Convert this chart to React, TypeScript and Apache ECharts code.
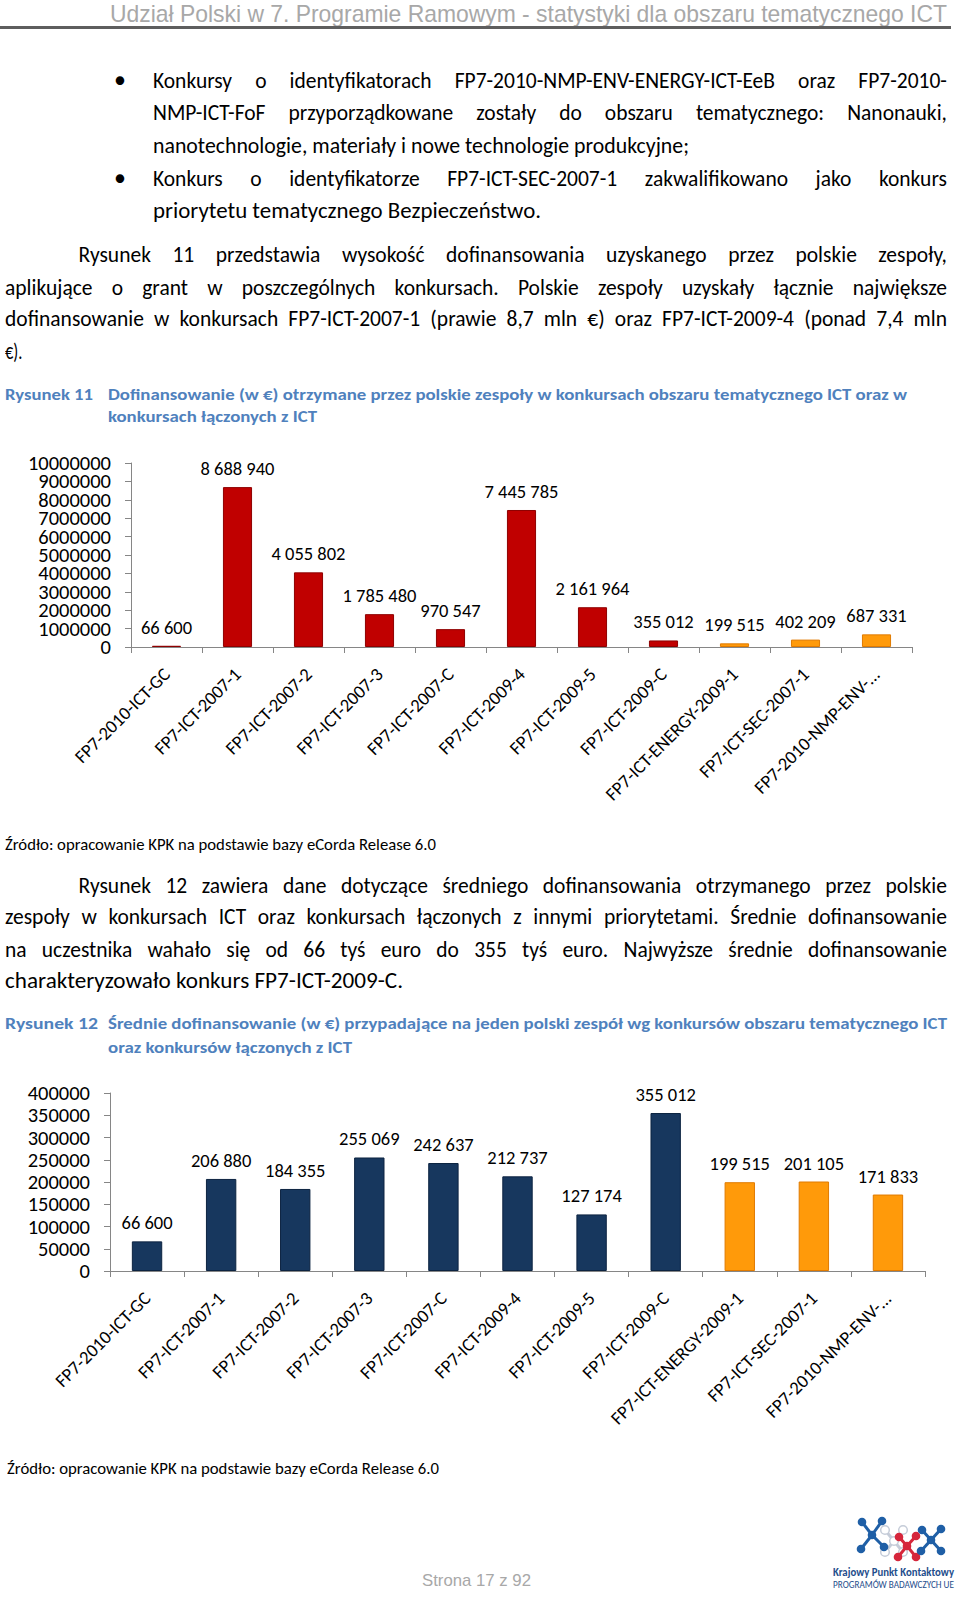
import React, { useEffect, useLayoutEffect, useRef } from "react";
import * as echarts from "echarts";

// ---------- DATA ----------
const categories = [
  "FP7-2010-ICT-GC",
  "FP7-ICT-2007-1",
  "FP7-ICT-2007-2",
  "FP7-ICT-2007-3",
  "FP7-ICT-2007-C",
  "FP7-ICT-2009-4",
  "FP7-ICT-2009-5",
  "FP7-ICT-2009-C",
  "FP7-ICT-ENERGY-2009-1",
  "FP7-ICT-SEC-2007-1",
  "FP7-2010-NMP-ENV-...",
];
// Rysunek 11: total funding (EUR)
const totalFunding = [66600, 8688940, 4055802, 1785480, 970547, 7445785, 2161964, 355012, 199515, 402209, 687331];
// Rysunek 12: average funding per team (EUR)
const avgFunding = [66600, 206880, 184355, 255069, 242637, 212737, 127174, 355012, 199515, 201105, 171833];
// 1 = call joint with another priority (orange), 0 = ICT call
const jointCall = [0, 0, 0, 0, 0, 0, 0, 0, 1, 1, 1];
// axis scales
const totalAxisMax = 10000000;
const totalAxisStep = 1000000;
const avgAxisMax = 400000;
const avgAxisStep = 50000;

// ---------- STYLE ----------
const BODY = "Carlito, Lato, 'Noto Sans', sans-serif";
const HEAD = "'Liberation Sans', Arial, sans-serif";
const AXIS = "#868686";
const RED = "#C00000";
const RED_B = "#8E0000";
const ORANGE = "#FF9A0A";
const ORANGE_B = "#E07A00";
const NAVY = "#17375E";
const NAVY_B = "#0C2340";
const CAPTION = "#4F81BD";
const BODY_SIZE = 21.5;

const fmt = (v: number) => String(v).replace(/\B(?=(\d{3})+(?!\d))/g, " ");

type LineProps = {
  x: number;
  y: number;
  w: number;
  text: string;
  justify?: boolean;
  size?: number;
  weight?: number;
  color?: string;
  family?: string;
  lh?: number;
  origin?: string;
};

function Line({ x, y, w, text, justify = false, size = BODY_SIZE, weight = 400, color = "#000", family = BODY, lh = 26, origin = "left center" }: LineProps) {
  const inner = useRef<HTMLDivElement>(null);
  useLayoutEffect(() => {
    const fit = () => {
      const el = inner.current;
      if (!el) return;
      el.style.transform = "";
      if (justify) {
        el.style.width = w + "px";
        const nat = el.scrollWidth;
        if (nat > w + 0.5) {
          el.style.width = nat + "px";
          el.style.transform = `scaleX(${w / nat})`;
        }
      } else {
        const nat = el.getBoundingClientRect().width;
        if (nat > 0) el.style.transform = `scaleX(${w / nat})`;
      }
    };
    fit();
    (document as any).fonts?.ready?.then(fit);
  }, [text, w, justify]);
  const base: React.CSSProperties = {
    position: "absolute",
    left: x,
    top: y - lh / 2,
    height: lh,
    lineHeight: lh + "px",
    fontFamily: family,
    fontSize: size,
    fontWeight: weight,
    color,
    whiteSpace: "nowrap",
  };
  if (justify) {
    const words = text.split(" ");
    return (
      <div style={base}>
        <div
          ref={inner}
          style={{ display: "flex", justifyContent: "space-between", gap: "0.2em", width: w, transformOrigin: origin }}
        >
          {words.map((wd, i) => (
            <span key={i}>{wd}</span>
          ))}
        </div>
      </div>
    );
  }
  return (
    <div style={base}>
      <div ref={inner} style={{ display: "inline-block", whiteSpace: "pre", transformOrigin: origin }}>
        {text}
      </div>
    </div>
  );
}

type ChartCfg = {
  values: number[];
  fill: string;
  border: string;
  left: number;
  top: number;
  width: number;
  height: number;
  max: number;
  step: number;
  yFont: number;
  yMargin: number;
  barWidth: string;
};

// Tick labels are split over two coinciding value axes (even / odd steps),
// so that tightly packed labels are never dropped by the overlap check.
function yAxisFor(c: ChartCfg, parity: number, main: boolean) {
  return {
    type: "value",
    position: "left",
    min: 0,
    max: c.max,
    interval: c.step,
    axisLine: { show: main, lineStyle: { color: AXIS, width: 1 } },
    axisTick: { show: main, length: 6, lineStyle: { color: AXIS } },
    splitLine: { show: false },
    axisLabel: {
      fontSize: c.yFont,
      color: "#000",
      margin: c.yMargin,
      fontFamily: BODY,
      showMinLabel: true,
      showMaxLabel: true,
      formatter: (v: number) => (Math.round(v / c.step) % 2 === parity ? String(v) : ""),
    },
  };
}

function buildOption(c: ChartCfg) {
  return {
    animation: false,
    grid: { left: c.left, top: c.top, width: c.width, height: c.height, containLabel: false },
    xAxis: {
      type: "category",
      data: categories,
      axisLine: { show: true, lineStyle: { color: AXIS, width: 1 } },
      axisTick: { show: true, length: 6, alignWithLabel: false, interval: 0, lineStyle: { color: AXIS } },
      axisLabel: { rotate: 45, interval: 0, margin: 24, fontSize: 18.5, color: "#000", fontFamily: BODY },
    },
    yAxis: [yAxisFor(c, 0, true), yAxisFor(c, 1, false)],
    series: [
      {
        type: "bar",
        yAxisIndex: 0,
        barWidth: c.barWidth,
        data: c.values.map((v, i) => ({
          value: v,
          itemStyle: {
            color: jointCall[i] ? ORANGE : c.fill,
            borderColor: jointCall[i] ? ORANGE_B : c.border,
            borderWidth: 1,
          },
        })),
        label: {
          show: true,
          position: "top",
          distance: 9,
          fontSize: 18.5,
          color: "#000",
          fontFamily: BODY,
          formatter: (p: any) => fmt(p.value),
        },
      },
    ],
  };
}

function Chart({ cfg, style }: { cfg: ChartCfg; style: React.CSSProperties }) {
  const ref = useRef<HTMLDivElement>(null);
  useEffect(() => {
    if (!ref.current) return;
    const chart = echarts.init(ref.current, undefined, { renderer: "svg" });
    chart.setOption(buildOption(cfg) as any);
    return () => chart.dispose();
  }, []);
  return <div ref={ref} style={{ position: "absolute", ...style }} />;
}

const chart1: ChartCfg = {
  values: totalFunding,
  fill: RED,
  border: RED_B,
  left: 131,
  top: 23,
  width: 781,
  height: 184,
  max: totalAxisMax,
  step: totalAxisStep,
  yFont: 20.5,
  yMargin: 20,
  barWidth: "41%",
};

const chart2: ChartCfg = {
  values: avgFunding,
  fill: NAVY,
  border: NAVY_B,
  left: 110,
  top: 23,
  width: 815,
  height: 178,
  max: avgAxisMax,
  step: avgAxisStep,
  yFont: 20.5,
  yMargin: 20,
  barWidth: "41%",
};

const R = 947; // right text margin

function Logo() {
  const blue = "#1F5FA6";
  const red = "#D6263B";
  const grey = "#C5CCD8";
  const mol = (cx: number, cy: number, ends: number[][], col: string, hollow = false, key = "") => (
    <g key={key}>
      {ends.map((e, i) => (
        <line key={"l" + i} x1={cx} y1={cy} x2={e[0]} y2={e[1]} stroke={col} strokeWidth={3} />
      ))}
      {ends.map((e, i) => (
        <circle key={"c" + i} cx={e[0]} cy={e[1]} r={4.3} fill={hollow ? "#fff" : col} stroke={col} strokeWidth={hollow ? 1.5 : 0} />
      ))}
      <circle cx={cx} cy={cy} r={4.3} fill={hollow ? "#fff" : col} stroke={col} strokeWidth={hollow ? 1.5 : 0} />
    </g>
  );
  return (
    <svg style={{ position: "absolute", left: 850, top: 1512 }} width={100} height={54} viewBox="850 1512 100 54">
      {mol(894, 1541, [[885, 1530], [903, 1530], [885, 1552], [903, 1552]], grey, true, "g")}
      {mol(872, 1535, [[862, 1522], [882, 1521], [861, 1549], [884, 1547]], blue, false, "b1")}
      {mol(907, 1546, [[899, 1537], [916, 1536], [898, 1557], [916, 1557]], red, false, "r")}
      {mol(931, 1540, [[922, 1530], [941, 1529], [921, 1551], [941, 1551]], blue, false, "b2")}
    </svg>
  );
}

export default function App() {
  useEffect(() => {
    document.body.style.margin = "0";
  }, []);
  const bul = (y: number) => (
    <div style={{ position: "absolute", left: 114, top: y - 13, lineHeight: "26px", fontSize: 24, fontFamily: BODY }}>•</div>
  );
  return (
    <div style={{ position: "absolute", left: 0, top: 0, width: 960, height: 1599, background: "#fff", overflow: "hidden" }}>
      {/* header */}
      <Line x={110} y={14} w={837} text="Udział Polski w 7. Programie Ramowym - statystyki dla obszaru tematycznego ICT" size={24} family={HEAD} color="#A8A8A8" lh={30} />
      <div style={{ position: "absolute", left: 0, top: 26, width: 951, height: 3, background: "#5E5E5E" }} />

      {/* bullets */}
      {bul(80)}
      <Line x={153} y={80.6} w={R - 153} justify text="Konkursy o identyfikatorach FP7-2010-NMP-ENV-ENERGY-ICT-EeB oraz FP7-2010-" />
      <Line x={153} y={113.2} w={R - 153} justify text="NMP-ICT-FoF przyporządkowane zostały do obszaru tematycznego: Nanonauki," />
      <Line x={153} y={145.9} w={689 - 153} text="nanotechnologie, materiały i nowe technologie produkcyjne;" />
      {bul(178)}
      <Line x={153} y={178.5} w={R - 153} justify text="Konkurs o identyfikatorze FP7-ICT-SEC-2007-1 zakwalifikowano jako konkurs" />
      <Line x={153} y={211.2} w={541 - 153} text="priorytetu tematycznego Bezpieczeństwo." />

      {/* paragraph 1 */}
      <Line x={78.6} y={255} w={R - 78.6} justify text="Rysunek 11 przedstawia wysokość dofinansowania uzyskanego przez polskie zespoły," />
      <Line x={5} y={287.7} w={R - 5} justify text="aplikujące o grant w poszczególnych konkursach. Polskie zespoły uzyskały łącznie największe" />
      <Line x={5} y={319.3} w={R - 5} justify text="dofinansowanie w konkursach FP7-ICT-2007-1 (prawie 8,7 mln €) oraz FP7-ICT-2009-4 (ponad 7,4 mln" />
      <Line x={5} y={352} w={22.4 - 5} text="€)." />

      {/* caption 11 */}
      <Line x={5} y={393.8} w={93 - 5} text="Rysunek 11" size={16.5} weight={700} color={CAPTION} lh={22} />
      <Line x={108} y={393.8} w={907 - 108} text="Dofinansowanie (w €) otrzymane przez polskie zespoły w konkursach obszaru tematycznego ICT oraz w" size={16.5} weight={700} color={CAPTION} lh={22} />
      <Line x={108} y={416.2} w={317 - 108} text="konkursach łączonych z ICT" size={16.5} weight={700} color={CAPTION} lh={22} />

      <Chart cfg={chart1} style={{ left: 0, top: 440, width: 960, height: 390 }} />

      <Line x={5} y={845} w={436 - 5} text="Źródło: opracowanie KPK na podstawie bazy eCorda Release 6.0" size={15.5} lh={20} />

      {/* paragraph 2 */}
      <Line x={78.6} y={885.5} w={R - 78.6} justify text="Rysunek 12 zawiera dane dotyczące średniego dofinansowania otrzymanego przez polskie" />
      <Line x={5} y={917} w={R - 5} justify text="zespoły w konkursach ICT oraz konkursach łączonych z innymi priorytetami. Średnie dofinansowanie" />
      <Line x={5} y={949.8} w={R - 5} justify text="na uczestnika wahało się od 66 tyś euro do 355 tyś euro. Najwyższe średnie dofinansowanie" />
      <Line x={5} y={981.4} w={403 - 5} text="charakteryzowało konkurs FP7-ICT-2009-C." />

      {/* caption 12 */}
      <Line x={5} y={1023.3} w={98 - 5} text="Rysunek 12" size={16.5} weight={700} color={CAPTION} lh={22} />
      <Line x={108} y={1023.3} w={R - 108} text="Średnie dofinansowanie (w €) przypadające na jeden polski zespół wg konkursów obszaru tematycznego ICT" size={16.5} weight={700} color={CAPTION} lh={22} />
      <Line x={108} y={1046.7} w={352 - 108} text="oraz konkursów łączonych z ICT" size={16.5} weight={700} color={CAPTION} lh={22} />

      <Chart cfg={chart2} style={{ left: 0, top: 1070, width: 960, height: 385 }} />

      <Line x={7} y={1469} w={439 - 7} text="Źródło: opracowanie KPK na podstawie bazy eCorda Release 6.0" size={15.5} lh={20} />

      {/* footer */}
      <Line x={422} y={1581} w={109} text="Strona 17 z 92" size={17} family={HEAD} color="#A8A8A8" lh={22} />
      <Logo />
      <Line x={833} y={1572} w={121} text="Krajowy Punkt Kontaktowy" size={12.5} weight={700} color="#1F4E8C" lh={14} />
      <Line x={833} y={1585} w={121} text="PROGRAMÓW BADAWCZYCH UE" size={10.5} color="#1F4E8C" lh={12} />
    </div>
  );
}
